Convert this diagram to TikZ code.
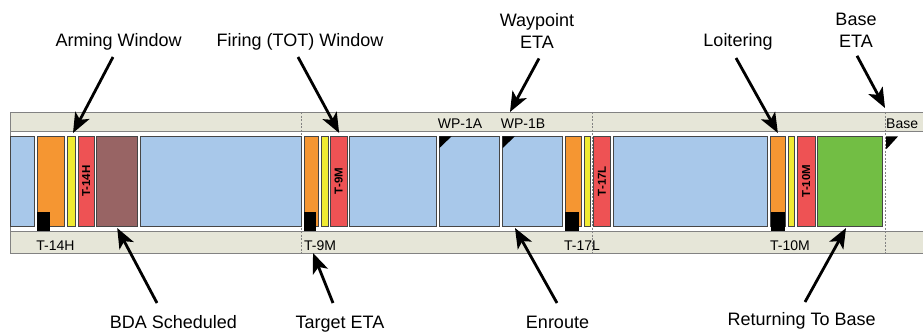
\documentclass[tikz,border=0pt]{standalone}
\usepackage{fontspec}
\setmainfont{Liberation Sans}
\usetikzlibrary{arrows.meta}
\definecolor{bandc}{RGB}{230,230,216}
\definecolor{bluec}{RGB}{168,200,234}
\definecolor{orangec}{RGB}{245,150,50}
\definecolor{yellowc}{RGB}{240,234,50}
\definecolor{redc}{RGB}{238,82,84}
\definecolor{brownc}{RGB}{152,100,100}
\definecolor{greenc}{RGB}{114,190,68}
\definecolor{edgec}{RGB}{70,70,70}
\definecolor{bandedge}{RGB}{130,130,130}
\begin{document}
\begin{tikzpicture}[x=1pt,y=-1pt,
  seg/.style={draw=edgec, line width=0.8pt, rectangle, anchor=north west,
    inner sep=0pt, outer sep=0pt, minimum height=90pt},
  seglabel/.style={rotate=90, inner sep=0pt, font=\fontsize{11.5}{11.5}\selectfont\bfseries},
  bandtext/.style={inner sep=0pt, font=\fontsize{14}{14}\selectfont},
  callout/.style={inner sep=0pt, font=\fontsize{18}{22}\selectfont, align=center},
  pointer/.style={line width=2.8pt, -{Stealth[length=20pt,width=16pt,inset=5pt]}},
  tick/.style={draw=bandedge, line width=0.8pt, dash pattern=on 2pt off 1.5pt}]

\useasboundingbox (0,0) rectangle (923,333);

% timeline frame and the two bands
\fill[white] (10,112) rectangle (935,253);
\draw[draw=bandedge, line width=0.8pt, fill=bandc] (10,112) rectangle (935,131);
\draw[draw=bandedge, line width=0.8pt, fill=bandc] (10,231) rectangle (935,253);
\draw[draw=bandedge, line width=0.8pt] (10,112) -- (10,253);

% time markers
\draw[tick] (301.5,112) -- (301.5,253);
\draw[tick] (592.7,112) -- (592.7,253);
\draw[tick] (885.5,112) -- (885.5,253);

% mission segments
\node[seg, fill=bluec,   minimum width=24.4pt] (b1) at (10.3,136) {};
\node[seg, fill=orangec, minimum width=27pt]   (o1) at (37.3,136) {};
\node[seg, fill=yellowc, minimum width=8pt]    (y1) at (67.3,136) {};
\node[seg, fill=redc,    minimum width=16.3pt] (r1) at (78,136) {};
\node[seg, fill=brownc,  minimum width=41pt]   (br) at (96.7,136) {};
\node[seg, fill=bluec,   minimum width=160.7pt](b2) at (140.3,136) {};
\node[seg, fill=orangec, minimum width=14.3pt] (o2) at (304,136) {};
\node[seg, fill=yellowc, minimum width=7.3pt]  (y2) at (321,136) {};
\node[seg, fill=redc,    minimum width=17.3pt] (r2) at (330,136) {};
\node[seg, fill=bluec,   minimum width=87.4pt] (b3) at (349.3,136) {};
\node[seg, fill=bluec,   minimum width=60.3pt] (b4) at (439,136) {};
\node[seg, fill=bluec,   minimum width=60.4pt] (b5) at (502.3,136) {};
\node[seg, fill=orangec, minimum width=16.4pt] (o3) at (565.3,136) {};
\node[seg, fill=yellowc, minimum width=6.7pt]  (y3) at (584,136) {};
\node[seg, fill=redc,    minimum width=17.4pt] (r3) at (593.3,136) {};
\node[seg, fill=bluec,   minimum width=154.4pt](b6) at (613.3,136) {};
\node[seg, fill=orangec, minimum width=14.3pt] (o4) at (770.7,136) {};
\node[seg, fill=yellowc, minimum width=6pt]    (y4) at (788.3,136) {};
\node[seg, fill=redc,    minimum width=17.7pt] (r4) at (797.3,136) {};
\node[seg, fill=greenc,  minimum width=65.4pt] (gr) at (817.3,136) {};

% time-on-target labels inside the red segments
\node[seglabel] (r1t) at (r1.center) {T-14H};
\node[seglabel] (r2t) at (r2.center) {T-9M};
\node[seglabel] (r3t) at (r3.center) {T-17L};
\node[seglabel] (r4t) at (r4.center) {T-10M};

% launch markers
\fill[black] (37.3,212) rectangle (50,231);
\fill[black] (304,212) rectangle (316,231);
\fill[black] (565.3,212) rectangle (578.7,231);
\fill[black] (770.7,212) rectangle (785,231);

% waypoint flags
\fill[black] (439.4,136.4) -- (451.5,136.4) -- (440.5,147) -- (439.4,148) -- cycle;
\fill[black] (502.7,136.4) -- (514.8,136.4) -- (503.8,147) -- (502.7,148) -- cycle;
\fill[black] (886,136.4) -- (898,136.4) -- (887.5,148) -- (886,149) -- cycle;

% band texts
\node[bandtext, anchor=base] (wpa) at (460,128) {WP-1A};
\node[bandtext, anchor=base] (wpb) at (523,128) {WP-1B};
\node[bandtext, anchor=base west] (bas) at (886,128) {Base};
\node[bandtext, anchor=base] (t14) at (55.5,250) {T-14H};
\node[bandtext, anchor=base west] (t9) at (304,250) {T-9M};
\node[bandtext, anchor=base] (t17) at (582,250) {T-17L};
\node[bandtext, anchor=base] (t10) at (790,250) {T-10M};

% callouts above
\node[callout, anchor=base] (arm) at (118.7,46.5) {Arming Window};
\node[callout, anchor=base] (fire) at (300,46.5) {Firing (TOT) Window};
\node[callout, anchor=north] (wp) at (537,13) {Waypoint\\ETA};
\node[callout, anchor=base] (loit) at (738,46.5) {Loitering};
\node[callout, anchor=north] (beta) at (856,13) {Base\\ETA};

% callouts below
\node[callout, anchor=base] (bda) at (173.5,328) {BDA Scheduled};
\node[callout, anchor=base] (teta) at (340,328) {Target ETA};
\node[callout, anchor=base] (enr) at (557.5,328) {Enroute};
\node[callout, anchor=base] (rtb) at (801.7,325) {Returning To Base};

% free ends of pointers
\coordinate (wptip) at (510,112);
\coordinate (basetip) at (885,108);
\coordinate (tetatip) at (313,253);
\coordinate (enrtip) at (515,228);

% pointers
\draw[pointer] ([shift={(-5.7,10.5)}]arm.base) -- ([shift={(1.7,-3)}]y1.north);
\draw[pointer] ([shift={(-2,10.5)}]fire.base) -- ([shift={(0.5,-3)}]r2.north);
\draw[pointer] ([shift={(2,10)}]wp.south) -- (wptip);
\draw[pointer] ([shift={(-2,11.5)}]loit.base) -- ([shift={(0,-3)}]o4.north);
\draw[pointer] ([shift={(1,8)}]beta.south) -- (basetip);
\draw[pointer] ([shift={(-16.5,-25)}]bda.base) -- ([shift={(0,2)}]br.south);
\draw[pointer] ([shift={(-7,-25)}]teta.base) -- (tetatip);
\draw[pointer] ([shift={(-0.5,-25)}]enr.base) -- (enrtip);
\draw[pointer] ([shift={(3.3,-23)}]rtb.base) -- ([shift={(-4,2)}]gr.south);
\end{tikzpicture}
\end{document}
